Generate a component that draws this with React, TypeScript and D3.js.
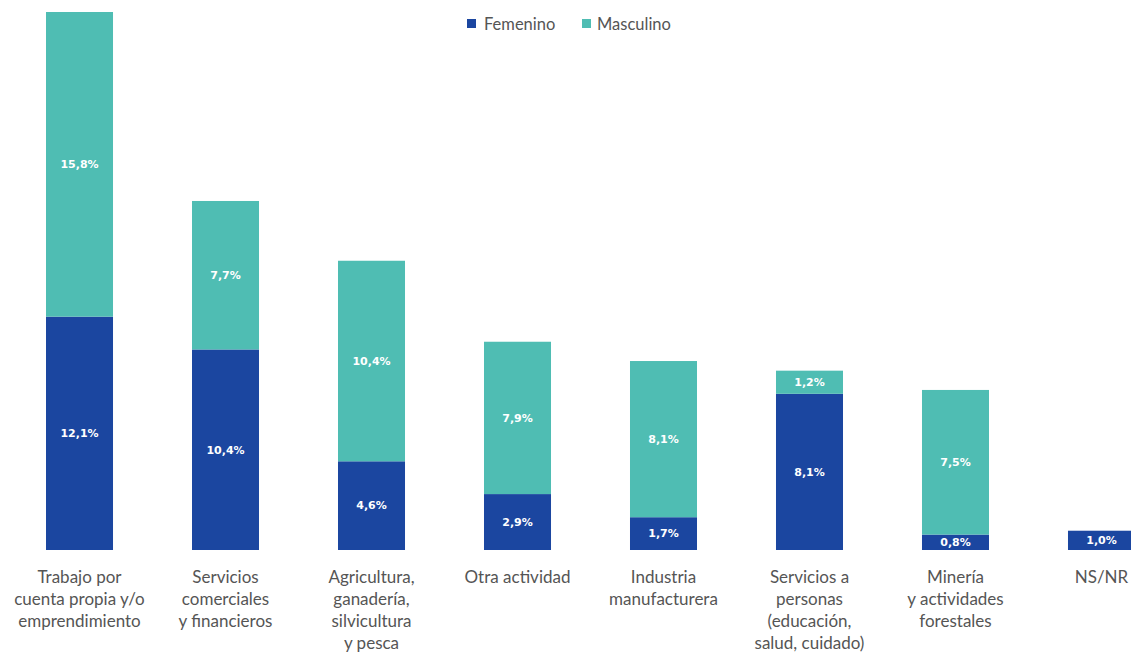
import React from "react";
import * as d3 from "d3";

const categories: string[][] = [
  ["Trabajo por", "cuenta propia y/o", "emprendimiento"],
  ["Servicios", "comerciales", "y financieros"],
  ["Agricultura,", "ganadería,", "silvicultura", "y pesca"],
  ["Otra actividad"],
  ["Industria", "manufacturera"],
  ["Servicios a", "personas", "(educación,", "salud, cuidado)"],
  ["Minería", "y actividades", "forestales"],
  ["NS/NR"],
];
const femenino: number[] = [12.1, 10.4, 4.6, 2.9, 1.7, 8.1, 0.8, 1.0];
const masculino: number[] = [15.8, 7.7, 10.4, 7.9, 8.1, 1.2, 7.5, 0];
const seriesNames = ["Femenino", "Masculino"];
const colors = ["#1b46a0", "#4fbdb3"];

const W = 1131;
const H = 660;

export default function App() {
  const idx = categories.map((_, i) => i);
  const x = d3
    .scaleBand<number>()
    .domain(idx)
    .range([46, 1135])
    .paddingInner(0.541)
    .paddingOuter(0);
  const y = d3.scaleLinear().domain([0, 27.9]).range([550, 12]);

  const rows = idx.map((i) => ({ i, Femenino: femenino[i], Masculino: masculino[i] }));
  const stack = d3.stack<any>().keys(seriesNames)(rows);
  const fmt = (v: number) => v.toFixed(1).replace(".", ",") + "%";
  const labelFont = "Lato, 'Open Sans', sans-serif";

  return (
    <svg
      width={W}
      height={H}
      style={{ position: "absolute", left: 0, top: 0, background: "#fff" }}
    >
      {stack.map((s, si) => (
        <g key={si}>
          {s.map((d: any, j: number) => {
            const v = d[1] - d[0];
            if (v <= 0) return null;
            const bx = x(j)!;
            const y0 = y(d[0]);
            const y1 = y(d[1]);
            return (
              <g key={j}>
                <rect x={bx} y={y1} width={x.bandwidth()} height={y0 - y1} fill={colors[si]} />
                <text
                  x={bx + x.bandwidth() / 2}
                  y={(y0 + y1) / 2}
                  dy="0.35em"
                  textAnchor="middle"
                  fill="#fff"
                  fontFamily="'DejaVu Sans', sans-serif"
                  fontWeight="bold"
                  fontSize={11}
                >
                  {fmt(v)}
                </text>
              </g>
            );
          })}
        </g>
      ))}
      {categories.map((lines, i) => (
        <text
          key={i}
          x={x(i)! + x.bandwidth() / 2}
          y={583}
          textAnchor="middle"
          fill="#555"
          fontFamily={labelFont}
          fontSize={17}
        >
          {lines.map((l, k) => (
            <tspan key={k} x={x(i)! + x.bandwidth() / 2} dy={k === 0 ? 0 : 22}>
              {l}
            </tspan>
          ))}
        </text>
      ))}
      <g fontFamily={labelFont} fontSize={16.5} fill="#555">
        <rect x={467} y={19} width={9} height={9} fill={colors[0]} />
        <text x={484} y={24} dy="0.35em">{seriesNames[0]}</text>
        <rect x={582} y={19} width={9} height={9} fill={colors[1]} />
        <text x={597} y={24} dy="0.35em">{seriesNames[1]}</text>
      </g>
    </svg>
  );
}
